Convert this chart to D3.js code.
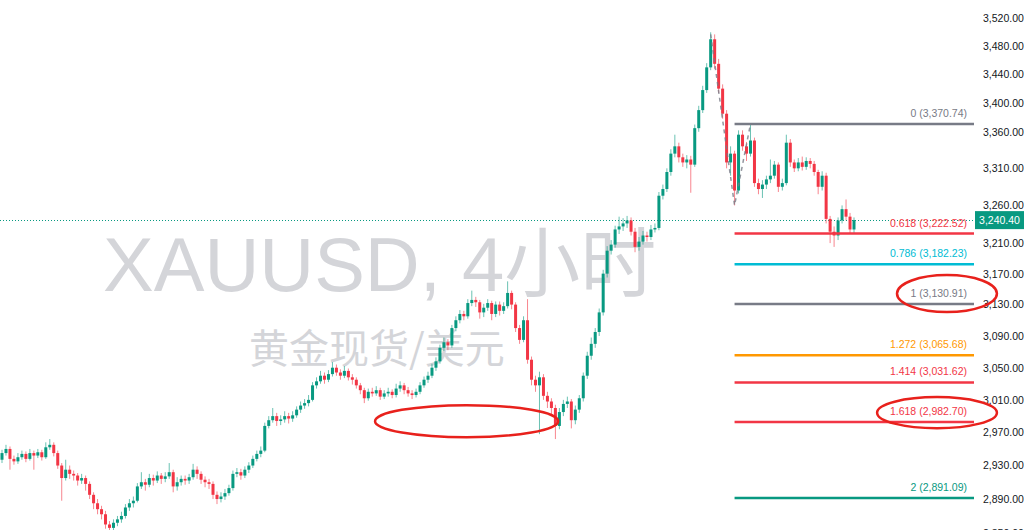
<!DOCTYPE html>
<html>
<head>
<meta charset="utf-8">
<script src="https://cdn.jsdelivr.net/npm/d3@7"></script>
<style>
  html, body { margin: 0; padding: 0; background: #ffffff; }
  svg { display: block; }
</style>
</head>
<body>
<svg id="chart" width="1024" height="530"></svg>
<script>
// ---------- data ----------
const firstOpen = 2937;
const closes = [
  2945,2950,2938,2935,2940,2944,2938,2945,2942,2946,
  2940,2952,2955,2945,2930,2915,2925,2920,2918,2912,
  2915,2908,2895,2885,2878,2872,2860,2856,2862,2866,
  2870,2880,2885,2888,2905,2910,2907,2915,2912,2918,
  2914,2917,2922,2905,2910,2914,2912,2916,2925,2920,
  2913,2910,2908,2895,2890,2893,2897,2903,2920,2922,
  2918,2925,2930,2938,2944,2948,2978,2985,2990,2984,
  2986,2990,2987,2991,2998,3003,3006,3010,3028,3033,
  3040,3035,3042,3050,3044,3040,3046,3038,3035,3028,
  3022,3012,3020,3018,3022,3014,3018,3020,3016,3024,
  3028,3022,3018,3016,3020,3028,3035,3040,3050,3058,
  3075,3082,3078,3100,3110,3118,3115,3132,3136,3133,
  3120,3126,3132,3118,3130,3122,3128,3145,3130,3100,
  3085,3110,3060,3035,3028,3038,3015,3008,3000,2978,
  2995,3005,3008,2985,2998,3012,3040,3065,3080,3095,
  3120,3170,3200,3208,3228,3232,3236,3240,3225,3205,
  3212,3220,3218,3228,3230,3273,3282,3305,3330,3340,
  3325,3318,3322,3315,3365,3390,3418,3450,3490,3455,
  3420,3385,3318,3330,3280,3356,3340,3330,3348,3290,
  3282,3288,3295,3300,3315,3285,3290,3345,3318,3310,
  3318,3312,3320,3316,3305,3285,3300,3242,3225,3220,
  3240,3255,3245,3228,3240.4
];
const highs = [
  2949,2955,2953,2942,2945,2948,2947,2950,2948,2950,
  2949,2958,2962,2958,2948,2933,2937,2930,2924,2921,
  2920,2918,2911,2898,2890,2882,2876,2864,2866,2870,
  2875,2884,2890,2893,2909,2922,2914,2920,2919,2923,
  2921,2922,2933,2925,2916,2918,2918,2920,2932,2929,
  2923,2917,2914,2911,2899,2898,2902,2907,2924,2927,
  2926,2929,2934,2942,2948,2953,2982,2990,3000,2994,
  2991,2996,2994,2996,3002,3008,3011,3016,3032,3038,
  3046,3044,3047,3057,3054,3048,3052,3049,3042,3038,
  3031,3025,3024,3025,3027,3025,3022,3025,3023,3030,
  3033,3031,3026,3022,3024,3032,3039,3045,3055,3063,
  3079,3088,3086,3104,3115,3123,3122,3137,3148,3140,
  3136,3131,3137,3135,3134,3134,3133,3160,3148,3133,
  3104,3115,3137,3064,3040,3045,3042,3020,3012,3004,
  3000,3010,3014,3011,3003,3016,3044,3070,3088,3100,
  3125,3175,3206,3214,3233,3245,3243,3246,3244,3230,
  3218,3226,3225,3234,3236,3278,3288,3310,3336,3356,
  3345,3330,3328,3327,3370,3396,3424,3456,3500,3497,
  3462,3426,3390,3340,3334,3362,3362,3346,3371,3352,
  3296,3294,3300,3322,3320,3318,3296,3356,3350,3322,
  3324,3326,3325,3324,3320,3308,3306,3304,3246,3232,
  3244,3260,3268,3250,3244
];
const lows = [
  2933,2942,2925,2931,2932,2937,2934,2936,2925,2939,
  2936,2938,2949,2941,2926,2888,2912,2914,2912,2906,
  2908,2900,2890,2878,2872,2866,2855,2850,2852,2858,
  2862,2867,2876,2880,2886,2902,2900,2904,2906,2909,
  2908,2910,2914,2898,2900,2906,2907,2908,2913,2914,
  2908,2904,2902,2890,2884,2886,2889,2894,2900,2916,
  2913,2915,2921,2927,2935,2940,2946,2975,2982,2978,
  2979,2982,2981,2983,2988,2994,2999,3002,3008,3024,
  3030,3030,3032,3039,3040,3035,3037,3034,3029,3024,
  3017,3006,3009,3014,3015,3010,3011,3014,3012,3013,
  3020,3017,3014,3011,3013,3017,3025,3031,3037,3046,
  3055,3071,3072,3075,3096,3106,3110,3112,3128,3127,
  3112,3114,3122,3110,3114,3116,3118,3125,3124,3095,
  3080,3082,3055,3028,3020,2968,3010,3000,2990,2962,
  2974,2990,3000,2975,2980,2994,3008,3036,3060,3075,
  3090,3116,3165,3195,3204,3222,3226,3230,3220,3198,
  3200,3208,3212,3214,3224,3227,3268,3278,3300,3325,
  3318,3312,3310,3277,3312,3360,3386,3414,3446,3448,
  3414,3378,3310,3300,3260,3276,3334,3320,3326,3285,
  3275,3270,3282,3290,3296,3278,3280,3287,3312,3305,
  3306,3307,3308,3310,3300,3275,3280,3236,3210,3205,
  3214,3236,3240,3222,3222
];
const yTicks = [3520,3480,3440,3400,3360,3310,3260,3210,3170,3130,3090,3050,3010,2970,2930,2890,2850];
const lastPrice = 3240.40;

const fibRatios = ["0","0.618","0.786","1","1.272","1.414","1.618","2"];
const fibValues = [3370.74,3222.52,3182.23,3130.91,3065.68,3031.62,2982.70,2891.09];
const fibColors = ["#787b86","#f23645","#00bcd4","#787b86","#ff9800","#f23645","#f23645","#089981"];
const fibStartIndex = 184;

// dashed swing line (index, price)
const swingIdx = [178, 184, 188];
const swingPrice = [3497, 3260, 3370.74];

// highlight ellipses: index range and price range
const ellIdx0 = [93.7, 224.8, 219.8];
const ellIdx1 = [139.7, 249.9, 249.9];
const ellTop = [3003.5, 3168.2, 3013.4];
const ellBot = [2964.3, 3120.4, 2975.3];

const watermarkMain = "XAUUSD, 4小时";
const watermarkSub = "黄金现货/美元";

// ---------- layout ----------
const W = 1024, H = 530;
const plotRight = 975;
const svg = d3.select("#chart");
svg.append("rect").attr("width", W).attr("height", H).attr("fill", "#ffffff");

const N = closes.length;
const x = d3.scaleLinear().domain([0, N - 1]).range([2, 854]);
const y = d3.scaleLog().domain([2850, 3520]).range([533, 18.4]);

// watermark
const wm = svg.append("g").attr("fill", "#d4d5d9");
wm.append("text")
  .attr("x", 103).attr("y", 291)
  .attr("font-family", "'Liberation Sans', 'Noto Sans CJK SC', sans-serif")
  .attr("font-size", 76)
  .text(watermarkMain);
wm.append("text")
  .attr("x", 249).attr("y", 363)
  .attr("font-family", "'Noto Sans CJK SC', sans-serif")
  .attr("font-size", 40)
  .text(watermarkSub);

// last price dotted line
svg.append("line")
  .attr("x1", 0).attr("x2", plotRight)
  .attr("y1", Math.round(y(lastPrice)) + 0.5).attr("y2", Math.round(y(lastPrice)) + 0.5)
  .attr("stroke", "#089981").attr("stroke-width", 1)
  .attr("stroke-dasharray", "1,2");

// candles
const data = closes.map((c, i) => ({
  i, o: i === 0 ? firstOpen : closes[i - 1], h: highs[i], l: lows[i], c
}));
const up = "#089981", down = "#f23645";
const cg = svg.append("g");
cg.selectAll("rect.wick").data(data).enter().append("rect")
  .attr("class", "wick")
  .attr("x", d => x(d.i) - 0.5)
  .attr("width", 1)
  .attr("y", d => y(d.h))
  .attr("height", d => y(d.l) - y(d.h))
  .attr("fill", d => d.c >= d.o ? up : down)
  .attr("opacity", 0.6);
cg.selectAll("rect.body").data(data).enter().append("rect")
  .attr("class", "body")
  .attr("x", d => x(d.i) - 1.5)
  .attr("width", 3)
  .attr("y", d => y(Math.max(d.o, d.c)))
  .attr("height", d => Math.max(1, Math.abs(y(d.o) - y(d.c))))
  .attr("fill", d => d.c >= d.o ? up : down);

// dashed swing line
svg.append("path")
  .datum(swingIdx.map((d, k) => [d, swingPrice[k]]))
  .attr("d", d3.line().x(d => x(d[0])).y(d => y(d[1])))
  .attr("fill", "none")
  .attr("stroke", "#787b86")
  .attr("stroke-width", 1.5)
  .attr("stroke-dasharray", "4,4")
  .attr("opacity", 0.8);

// fib levels
const fg = svg.append("g");
fibValues.forEach((v, k) => {
  fg.append("line")
    .attr("x1", x(fibStartIndex)).attr("x2", plotRight - 1)
    .attr("y1", y(v)).attr("y2", y(v))
    .attr("stroke", fibColors[k]).attr("stroke-width", 2.5);
  fg.append("text")
    .attr("x", 967).attr("y", y(v) - 7)
    .attr("text-anchor", "end")
    .attr("font-family", "'Liberation Sans', Arial, sans-serif")
    .attr("font-size", 10.5)
    .attr("fill", fibColors[k])
    .text(fibRatios[k] + " (" + d3.format(",.2f")(v) + ")");
});

// right axis
const axis = d3.axisRight(y)
  .tickValues(yTicks)
  .tickFormat(d3.format(",.2f"))
  .tickSize(0)
  .tickPadding(0);
const ag = svg.append("g").attr("transform", `translate(983,0)`).call(axis);
ag.select(".domain").remove();
ag.selectAll("text")
  .attr("font-family", "'Liberation Sans', Arial, sans-serif")
  .attr("font-size", 10.5)
  .attr("fill", "#131722");

// last price badge
const by = y(lastPrice);
svg.append("rect")
  .attr("x", plotRight).attr("y", by - 9)
  .attr("width", W - plotRight).attr("height", 18)
  .attr("fill", "#089981");
svg.append("text")
  .attr("x", 999.5).attr("y", by + 4)
  .attr("text-anchor", "middle")
  .attr("font-family", "'Liberation Sans', Arial, sans-serif")
  .attr("font-size", 10.5)
  .attr("fill", "#ffffff")
  .text(d3.format(",.2f")(lastPrice));

// red ellipses
ellIdx0.forEach((a, k) => {
  const x0 = x(a), x1 = x(ellIdx1[k]);
  const y0 = y(ellTop[k]), y1 = y(ellBot[k]);
  svg.append("ellipse")
    .attr("cx", (x0 + x1) / 2).attr("cy", (y0 + y1) / 2)
    .attr("rx", (x1 - x0) / 2).attr("ry", (y1 - y0) / 2)
    .attr("fill", "none")
    .attr("stroke", "#e8211c")
    .attr("stroke-width", 2.5);
});
</script>
</body>
</html>
